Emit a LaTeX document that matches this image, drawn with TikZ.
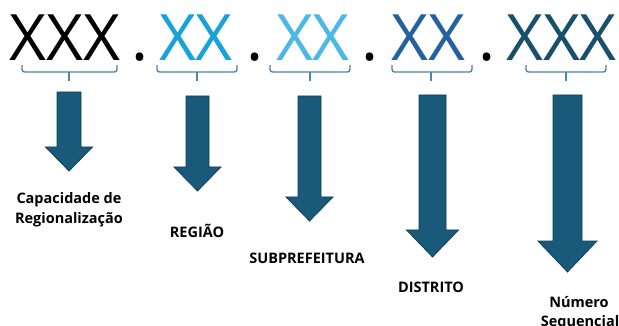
\documentclass[tikz,border=0pt]{standalone}
\usepackage{fontspec}
\setmainfont{Open Sans}
\definecolor{cblack}{HTML}{000000}
\definecolor{ccyan}{HTML}{17A2D8}
\definecolor{clight}{HTML}{4DB8E6}
\definecolor{cblue}{HTML}{24619F}
\definecolor{cteal}{HTML}{174F6C}
\definecolor{bracec}{HTML}{4C86A8}
\definecolor{arrfill}{HTML}{195A7B}
\definecolor{arrdraw}{HTML}{123F57}
\newcommand{\myarrow}[6]{%
  \fill[arrowshape] (#1-#5,#2) -- (#1+#5,#2) -- (#1+#5,#3) -- (#1+#6,#3) -- (#1,#4)
    -- (#1-#6,#3) -- (#1-#5,#3) -- cycle;}
\newcommand{\mybrace}[3]{%
  \draw[bracestyle] (#1,65) -- (#1,72) -- (#2,72) -- (#2,65);
  \draw[bracestyle] (#3,72) -- (#3,81);}
\begin{document}
\begin{tikzpicture}[x=1pt,y=-1pt,
  code/.style={font=\fontsize{64}{64}\selectfont, inner sep=0pt, anchor=base},
  lbl/.style={font=\bfseries\fontsize{14.5}{19}\selectfont, inner sep=0pt, anchor=base, align=center},
  arrowshape/.style={fill=arrfill, draw=arrdraw, line width=0.8pt, line join=miter},
  bracestyle/.style={draw=bracec, line width=1.4pt, rounded corners=2.5pt}]
\clip (0,0) rectangle (619,326);
\fill[white] (0,0) rectangle (619,326);
% codes
\node[code, text=cblack] (c1) at (65,61) {XXX};
\node[code] (d1) at (140,61) {.};
\node[code, text=ccyan] (c2) at (196,61) {XX};
\node[code] (d2) at (255,61) {.};
\node[code, text=clight] (c3) at (313,61) {XX};
\node[code] (d3) at (370,61) {.};
\node[code, text=cblue] (c4) at (428.5,61) {XX};
\node[code] (d4) at (487,61) {.};
\node[code, text=cteal] (c5) at (561.5,61) {XXX};
% braces
\mybrace{22}{117}{69}
\mybrace{157}{237}{197}
\mybrace{270}{350}{310}
\mybrace{392}{472}{431}
\mybrace{526}{606}{566}
% arrows
\myarrow{69}{92}{147}{171}{12}{23.5}
\myarrow{197.5}{96}{167}{191}{11.5}{23.5}
\myarrow{309.5}{96}{197}{221}{11.5}{23.5}
\myarrow{432.5}{95}{230}{257}{13.5}{26}
\myarrow{567.5}{95}{241}{272}{14.5}{29.5}
% labels
\node[lbl] (l1) at (69,204) {Capacidade de};
\node[lbl] (l1b) at (69,223) {Regionalização};
\node[lbl] (l2) at (197,237) {REGIÃO};
\node[lbl] (l3) at (307,263) {SUBPREFEITURA};
\node[lbl] (l4) at (431,292) {DISTRITO};
\node[lbl] (l5) at (579,307) {Número};
\node[lbl] (l5b) at (580,326) {Sequencial};
\end{tikzpicture}
\end{document}
